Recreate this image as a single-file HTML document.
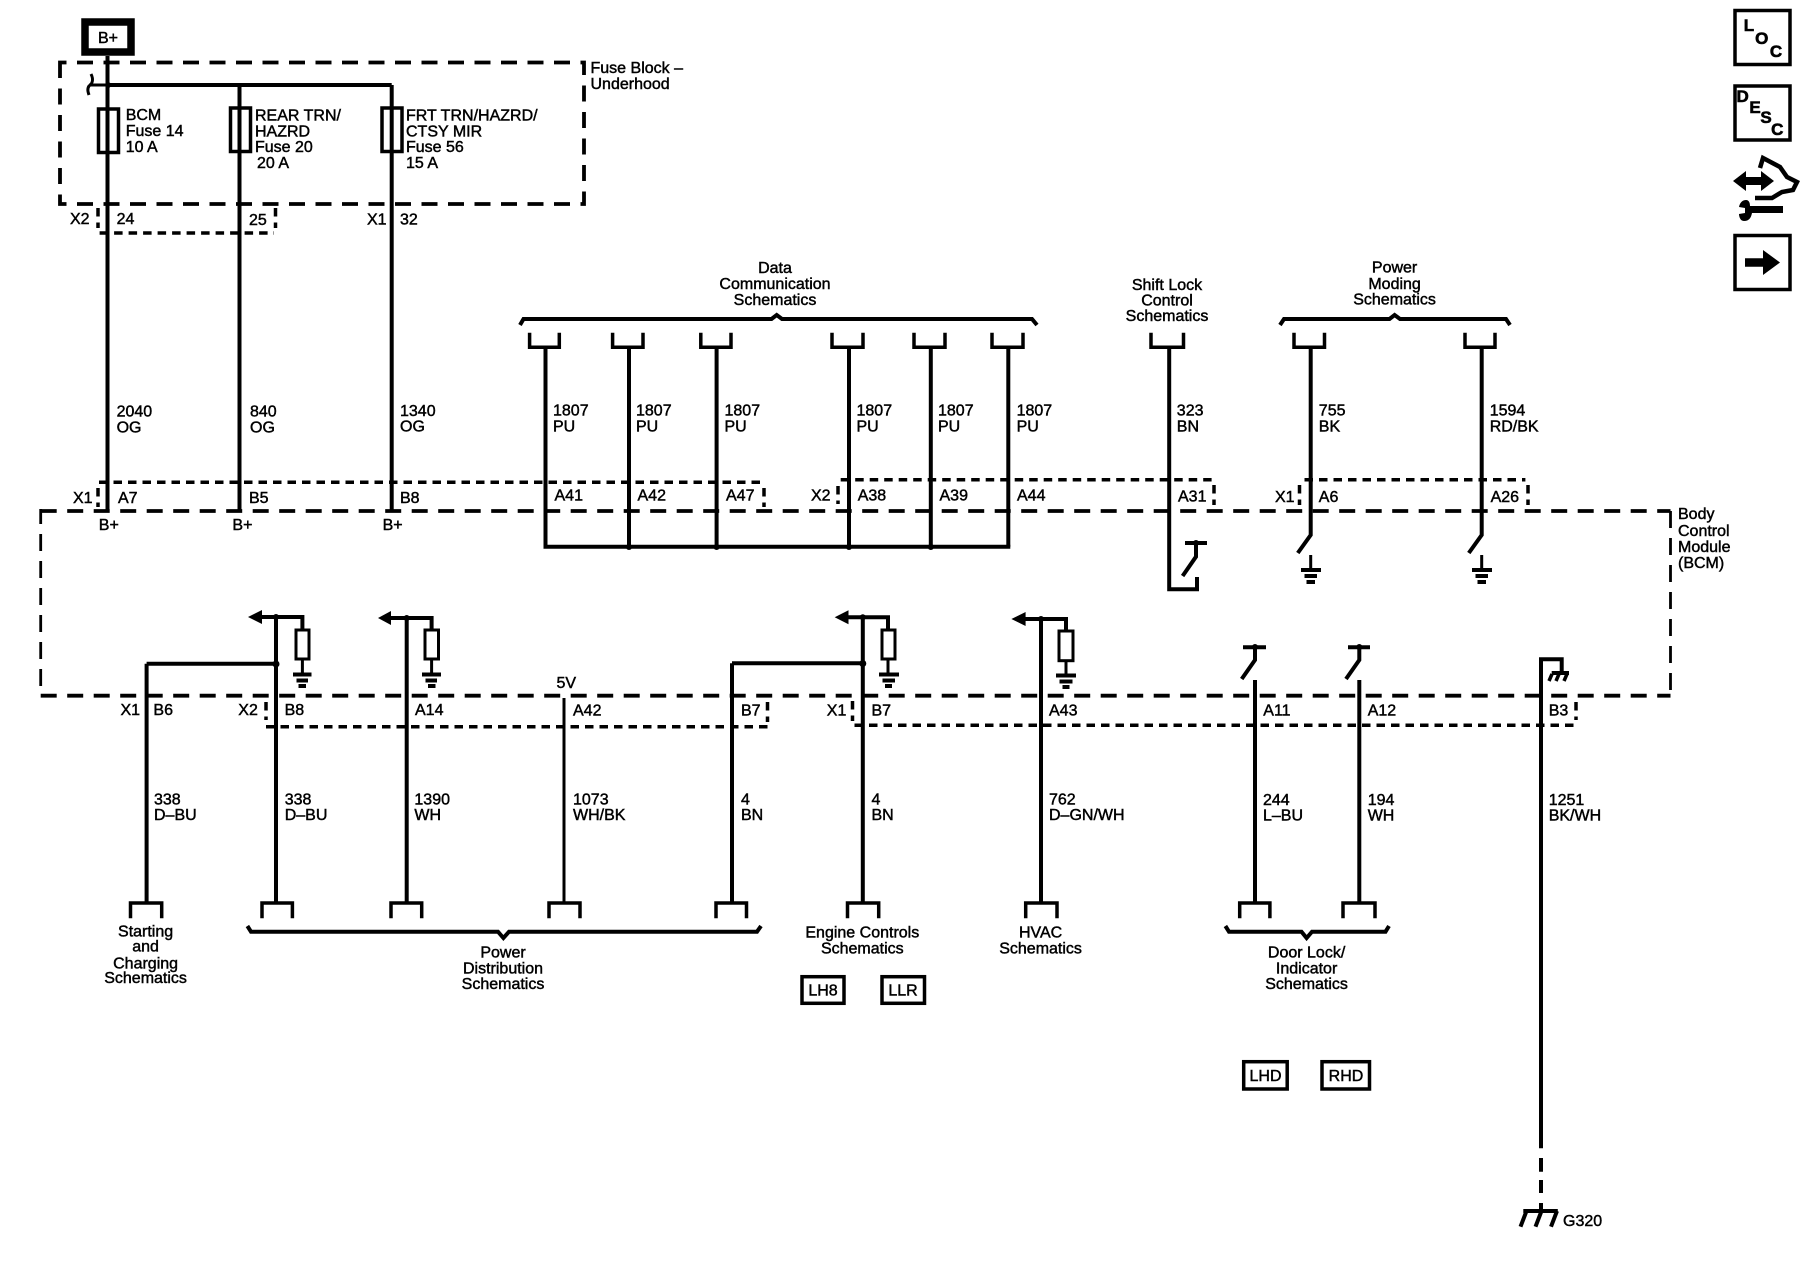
<!DOCTYPE html>
<html><head><meta charset="utf-8"><title>BCM schematic</title>
<style>
html,body{margin:0;padding:0;background:#fff;width:1800px;height:1280px;overflow:hidden}
svg{display:block}
text{font-family:"Liberation Sans",sans-serif;font-size:16px;fill:#000;stroke:#000;stroke-width:.45}
.m{text-anchor:middle}
.w{fill:none;stroke:#000;stroke-width:4}
.c{fill:none;stroke:#000;stroke-width:3.5}
.t{fill:none;stroke:#000;stroke-width:3}
.d{fill:none;stroke:#000;stroke-width:3.8;stroke-dasharray:16 10.5}
.o{fill:none;stroke:#000;stroke-width:3.5;stroke-dasharray:8.5 6}
.b{font-weight:bold;font-size:17px;stroke-width:.6}
</style></head><body>
<svg width="1800" height="1280" viewBox="0 0 1800 1280" xmlns="http://www.w3.org/2000/svg">
<rect width="1800" height="1280" fill="#fff"/>

<!-- B+ -->
<rect x="85" y="22" width="46" height="30" fill="#fff" stroke="#000" stroke-width="7.5"/>
<text x="108" y="43" class="m">B+</text>

<!-- Fuse block -->
<path class="d" d="M60 72V62.5H584V204H60V72"/>
<text x="590.5" y="73">Fuse Block –</text>
<text x="590.5" y="89">Underhood</text>
<path class="w" d="M107.5 56V511M239.5 85V511M391.7 85V511M107.5 85H391.7"/>
<circle cx="108" cy="85" r="3"/>
<path class="t" d="M91 74C94 80 92 84 89 86C87 89 88 92 89 95"/>
<path class="t" d="M89 85H107"/>
<rect x="98.5" y="109" width="20" height="43.5" fill="#fff" stroke="#000" stroke-width="3.5"/>
<rect x="230.5" y="108" width="20" height="43.5" fill="#fff" stroke="#000" stroke-width="3.5"/>
<rect x="382" y="108" width="20" height="43.5" fill="#fff" stroke="#000" stroke-width="3.5"/>
<path class="w" d="M107.5 108V153M239.5 107V152M391.7 107V152"/>
<text x="125.7" y="120">BCM</text><text x="125.7" y="136">Fuse 14</text><text x="125.7" y="152">10 A</text>
<text x="255" y="120.5">REAR TRN/</text><text x="255" y="136.5">HAZRD</text><text x="255" y="152">Fuse 20</text><text x="257" y="168">20 A</text>
<text x="406" y="120.5">FRT TRN/HAZRD/</text><text x="406" y="136.5">CTSY MIR</text><text x="406" y="152">Fuse 56</text><text x="406" y="168">15 A</text>

<text x="70" y="224">X2</text><text x="116.6" y="224">24</text><text x="249" y="225">25</text>
<text x="367" y="224.5">X1</text><text x="400" y="224.5">32</text>
<path class="o" d="M98 208V228M99.6 233H274M275.5 208V228"/>

<!-- BCM box -->
<path class="d" d="M40.7 511H1670.5M40.7 695.7H1670.5"/>
<path d="M40.7 509V524M40.7 534V696M1670.5 511V696" fill="none" stroke="#000" stroke-width="2.8" stroke-dasharray="17 10"/>
<text x="1678" y="519">Body</text><text x="1678" y="536">Control</text><text x="1678" y="552">Module</text><text x="1678" y="568">(BCM)</text>

<!-- Top connector strips -->
<path class="o" d="M98 488V507M99 482.3H763M764 488V507M838 486V504M840.7 479.7H1211.6M1214 485V505M1299.5 485V505M1304.5 479.7H1525.4M1528 485V505"/>
<text x="73" y="503">X1</text><text x="118" y="503">A7</text><text x="249" y="503">B5</text><text x="400" y="503">B8</text>
<text x="98.8" y="530">B+</text><text x="232.4" y="530">B+</text><text x="382.6" y="530">B+</text>
<text x="116.6" y="416.7">2040</text><text x="116.6" y="432.7">OG</text>
<text x="250" y="416.7">840</text><text x="250" y="432.7">OG</text>
<text x="400" y="416">1340</text><text x="400" y="431.7">OG</text>

<!-- Data communication -->
<text x="775" y="273" class="m">Data</text><text x="775" y="289" class="m">Communication</text><text x="775" y="305" class="m">Schematics</text>
<path class="w" d="M520 325L523.500 319H771.500L776.700 315L782 319H1032L1037 325"/>
<path class="c" d="M529.600 332.700V347.300H559.300V332.700M612.600 332.700V347.300H643V332.700M700.800 332.700V347.300H731V332.700M832 332.700V347.300H863V332.700M914 332.700V347.300H945V332.700M992 332.700V347.300H1023V332.700"/>
<path class="w" d="M545.500 347V546.700M629 347V546.700M716.600 347V546.700M849 347V546.700M930.800 347V546.700M1008.300 347V546.700"/>
<path class="w" d="M543.500 546.700H1010.300"/>
<circle cx="629" cy="547" r="3"/><circle cx="716.600" cy="547" r="3"/><circle cx="849" cy="547" r="3"/><circle cx="930.800" cy="547" r="3"/>
<text x="553" y="415.700">1807</text><text x="553" y="431.700">PU</text>
<text x="636" y="415.700">1807</text><text x="636" y="431.700">PU</text>
<text x="724.500" y="415.700">1807</text><text x="724.500" y="431.700">PU</text>
<text x="856.500" y="415.700">1807</text><text x="856.500" y="431.700">PU</text>
<text x="938" y="415.700">1807</text><text x="938" y="431.700">PU</text>
<text x="1016.600" y="415.700">1807</text><text x="1016.600" y="431.700">PU</text>
<text x="554.500" y="500.700">A41</text><text x="637.500" y="500.700">A42</text><text x="726" y="500.700">A47</text>
<text x="811" y="500.700">X2</text><text x="857.700" y="500.700">A38</text><text x="939.500" y="500.700">A39</text><text x="1017" y="500.700">A44</text>

<!-- Shift lock -->
<text x="1167" y="290" class="m">Shift Lock</text><text x="1167" y="305.700" class="m">Control</text><text x="1167" y="321" class="m">Schematics</text>
<path class="c" d="M1151 332.700V347.300H1183.500V332.700"/>
<path class="w" d="M1169.200 347V589.300H1197V577"/>
<path class="w" d="M1185 543H1207M1196 543V556.700L1182.600 576"/>
<circle cx="1196" cy="543" r="3"/>
<text x="1176.800" y="415.700">323</text><text x="1176.800" y="431.700">BN</text>
<text x="1178" y="501.700">A31</text>

<!-- Power moding -->
<text x="1394.600" y="272.700" class="m">Power</text><text x="1394.600" y="289" class="m">Moding</text><text x="1394.600" y="304.300" class="m">Schematics</text>
<path class="w" d="M1280 325L1284 319H1389.500L1394.600 315L1400 319H1506L1510 325"/>
<path class="c" d="M1294 332.700V347.300H1324.500V332.700M1465 332.700V347.300H1495V332.700"/>
<path class="w" d="M1310.700 347V535L1297.800 553M1481.700 347V535L1468.800 553"/>
<path class="t" d="M1310.700 555V568M1481.700 555V568"/>
<path class="w" d="M1301 570H1321M1304.500 576H1317M1306.500 582H1315M1472 570H1492M1475.500 576H1488M1477.500 582H1486"/>
<text x="1318.800" y="415.700">755</text><text x="1318.800" y="431.700">BK</text>
<text x="1489.700" y="415.700">1594</text><text x="1489.700" y="431.700">RD/BK</text>
<text x="1275" y="502">X1</text><text x="1318.800" y="502">A6</text><text x="1490.600" y="502">A26</text>

<!-- Lower wires -->
<path class="w" d="M146.600 663.700V902M276 617V902M406.700 618V902M732 663.300V902M862.800 617.300V902M1041 619V902M1255 680V902M1359.300 680V902"/>
<path class="t" d="M564 698V902"/>
<path class="w" d="M146.600 663.700H276M732 663.300H862.800"/>
<circle cx="276" cy="664" r="3.500"/><circle cx="862.800" cy="663.500" r="3.500"/>
<circle cx="276" cy="617" r="3"/><circle cx="406.700" cy="618" r="3"/><circle cx="862.800" cy="617.300" r="3"/><circle cx="1041" cy="619" r="3"/>

<!-- Pull-downs -->
<g>
<path d="M248 617L262 610V624Z"/><path class="w" d="M260 617H302.400V630"/>
<rect x="296" y="630" width="13" height="29" fill="#fff" stroke="#000" stroke-width="3"/>
<path class="t" d="M302.400 659V674"/><path class="w" d="M293 674.500H311.500M296.500 680.500H308M298.500 686H306"/>
</g>
<g>
<path d="M378 618L391 611V625Z"/><path class="w" d="M389 618H431.600V630"/>
<rect x="425" y="630" width="13.500" height="29" fill="#fff" stroke="#000" stroke-width="3"/>
<path class="t" d="M431.600 659V674"/><path class="w" d="M422 674.500H441M425.500 680.500H437M428 686H435.500"/>
</g>
<g>
<path d="M834.700 617.300L848.500 610.300V624.300Z"/><path class="w" d="M846 617.300H888V630"/>
<rect x="882" y="630" width="13" height="29" fill="#fff" stroke="#000" stroke-width="3"/>
<path class="t" d="M888 659V674"/><path class="w" d="M879 674.500H899M882.500 680.500H895M885 686H892"/>
</g>
<g>
<path d="M1011.400 619L1025.600 612V626Z"/><path class="w" d="M1023 619H1066V631"/>
<rect x="1059" y="631" width="14" height="29.700" fill="#fff" stroke="#000" stroke-width="3"/>
<path class="t" d="M1066 660V675"/><path class="w" d="M1056 675.500H1076M1059.500 681.500H1072.500M1062.500 687H1069.500"/>
</g>

<!-- Lower switches -->
<path class="w" d="M1243 647.300H1266M1255 647.300V660L1241.700 679M1348 647.300H1370M1359.300 647.300V660L1346 679"/>
<circle cx="1255" cy="647" r="3"/><circle cx="1359.300" cy="647" r="3"/>

<!-- G320 wire -->
<path class="w" d="M1541 1148.300V659.300H1561.700V673"/>
<path class="w" d="M1551.700 673H1569"/>
<path d="M1552 674L1549 681M1559 674L1556 681M1567 674L1564 681" fill="none" stroke="#000" stroke-width="3.5"/>
<path class="w" d="M1541 1158V1171.700M1541 1180V1193M1541 1203V1211"/>
<path class="w" d="M1523.300 1211H1557.800"/>
<path class="w" d="M1526.500 1211L1520.500 1226.700M1541.500 1211L1535.500 1226.700M1557 1211L1551 1226.700"/>
<text x="1563" y="1226">G320</text>

<!-- Lower connector strips -->
<path class="o" d="M266 702V720M266 726.700H767.500M767.500 702V722M852.500 701V721M854.500 725.300H1576M1576 702V720"/>
<text x="556.500" y="688">5V</text>
<text x="120.500" y="715">X1</text><text x="153.400" y="715">B6</text><text x="238.300" y="715">X2</text><text x="284.600" y="715">B8</text>
<text x="415" y="715">A14</text><text x="573" y="715.700">A42</text><text x="741" y="715.700">B7</text>
<text x="826.800" y="715.700">X1</text><text x="871.500" y="715.700">B7</text><text x="1049" y="715.700">A43</text>
<text x="1263.300" y="715.700">A11</text><text x="1367.700" y="715.700">A12</text><text x="1548.700" y="715.700">B3</text>

<text x="154" y="804.300">338</text><text x="154" y="820">D–BU</text>
<text x="284.700" y="804.300">338</text><text x="284.700" y="820">D–BU</text>
<text x="414.400" y="804.300">1390</text><text x="414.400" y="820">WH</text>
<text x="573" y="804.300">1073</text><text x="573" y="820">WH/BK</text>
<text x="741" y="804.300">4</text><text x="741" y="820">BN</text>
<text x="871.500" y="804.300">4</text><text x="871.500" y="820">BN</text>
<text x="1049" y="804.300">762</text><text x="1049" y="820">D–GN/WH</text>
<text x="1263" y="805">244</text><text x="1263" y="820.700">L–BU</text>
<text x="1367.700" y="805">194</text><text x="1367.700" y="820.700">WH</text>
<text x="1548.700" y="805">1251</text><text x="1548.700" y="820.700">BK/WH</text>

<!-- Lower cups -->
<path class="c" d="M130.500 918.300V903H161.700V918.300M262 918.300V903H292.400V918.300M391 918.300V903H421.700V918.300M549 918.300V903H580V918.300M716 918.300V903H746.500V918.300M847.500 918.300V903H878.700V918.300M1025.700 918.300V903H1057V918.300M1239.700 918.300V903H1269.900V918.300M1343 918.300V903H1375V918.300"/>

<!-- Lower braces -->
<path class="w" d="M247.400 926L251 931.700H498L503.400 938L509 931.700H757L761 926"/>
<path class="w" d="M1225.400 926L1229 931.700H1301.500L1306.600 938L1312 931.700H1385.500L1389 926"/>

<text x="145.600" y="936.700" class="m">Starting</text><text x="145.600" y="951.700" class="m">and</text><text x="145.600" y="968.300" class="m">Charging</text><text x="145.600" y="983" class="m">Schematics</text>
<text x="503" y="957.300" class="m">Power</text><text x="503" y="973.300" class="m">Distribution</text><text x="503" y="989" class="m">Schematics</text>
<text x="862.300" y="937.300" class="m">Engine Controls</text><text x="862.300" y="953.300" class="m">Schematics</text>
<text x="1040.600" y="937.300" class="m">HVAC</text><text x="1040.600" y="953.300" class="m">Schematics</text>
<text x="1306.600" y="957.300" class="m">Door Lock/</text><text x="1306.600" y="973.300" class="m">Indicator</text><text x="1306.600" y="989" class="m">Schematics</text>

<!-- Option boxes -->
<rect x="802" y="976.700" width="42" height="26.600" fill="#fff" stroke="#000" stroke-width="3.500"/><text x="823" y="995.500" class="m">LH8</text>
<rect x="882" y="976.700" width="42.500" height="26.600" fill="#fff" stroke="#000" stroke-width="3.500"/><text x="903" y="995.500" class="m">LLR</text>
<rect x="1243.700" y="1061.700" width="43.500" height="27.300" fill="#fff" stroke="#000" stroke-width="3.500"/><text x="1265.500" y="1081" class="m">LHD</text>
<rect x="1322" y="1061.700" width="47.500" height="27.300" fill="#fff" stroke="#000" stroke-width="3.500"/><text x="1346" y="1081" class="m">RHD</text>

<!-- Right-hand icons -->
<rect x="1735" y="10.500" width="55" height="54" fill="#fff" stroke="#000" stroke-width="3.500"/>
<text x="1749" y="31" class="m b">L</text><text x="1761.700" y="44" class="m b">O</text><text x="1776" y="57" class="m b">C</text>
<rect x="1735" y="86" width="55" height="54" fill="#fff" stroke="#000" stroke-width="3.500"/>
<text x="1742.700" y="102" class="m b">D</text><text x="1755" y="113" class="m b">E</text><text x="1766" y="123" class="m b">S</text><text x="1777.300" y="135" class="m b">C</text>
<path d="M1733 181L1746 171V177H1761V171L1774 181L1761 191V185H1746V191Z"/>
<path d="M1755 198H1772L1782 192L1793 190L1797 182L1787 177L1780 167L1763 158L1760 168" fill="none" stroke="#000" stroke-width="4.500"/>
<path d="M1750 206H1783V213H1752C1751 218 1749 221 1744 221C1740 221 1739 216 1739 214L1745 213L1745 208L1739 207C1740 202 1743 200 1746 200C1749 200 1750 203 1750 206Z"/>
<rect x="1735" y="235.500" width="55" height="54" fill="#fff" stroke="#000" stroke-width="3.500"/>
<path d="M1745 258.300H1763V250L1780 262.500L1763 275V266.700H1745Z"/>
</svg>
</body></html>
